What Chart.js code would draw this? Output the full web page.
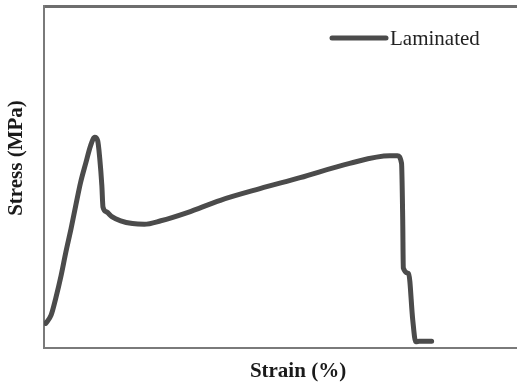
<!DOCTYPE html>
<html>
<head>
<meta charset="utf-8">
<script src="https://cdn.jsdelivr.net/npm/chart.js@4"></script>
<style>
  html, body { margin: 0; padding: 0; background: #fff; }
  #wrap { width: 517px; height: 388px; }
</style>
</head>
<body>
<div id="wrap"><canvas id="chart"></canvas></div>
<script>
// tensile test curve, laminated sample
const strain = [0.03, 0.12, 0.20, 0.29, 0.37, 0.46, 0.54, 0.62, 0.71, 0.79, 0.86, 0.91, 0.945, 0.98, 1.00, 1.06, 1.15, 1.30, 1.50, 1.70, 1.98, 2.43, 2.99, 3.66, 4.34, 5.18, 5.86, 5.99, 6.06, 6.08, 6.09, 6.18, 6.25, 6.30, 6.36, 6.57];
const stress = [3.6, 4.8, 7.3, 10.6, 14.0, 17.5, 20.9, 24.2, 27.1, 29.6, 30.8, 30.3, 27.7, 23.8, 20.6, 19.9, 19.2, 18.6, 18.2, 18.1, 18.6, 19.8, 21.6, 23.3, 24.9, 27.0, 28.1, 28.1, 27.0, 18.7, 11.7, 10.9, 4.1, 0.9, 1.0, 1.0];
const seriesName = "Laminated";
const xTitle = "Strain (%)";
const yTitle = "Stress (MPa)";

const lineColor = "#4b4b4b";
const frameColor = "#7a7a7a";
const serif = "'Liberation Serif', 'Times New Roman', serif";

// axis titles and the legend sit a little off-centre, so they are painted here
const labelsPlugin = {
  id: "frameLabels",
  afterDraw(chart) {
    const { ctx, chartArea: a } = chart;
    ctx.save();
    ctx.fillStyle = "#1a1a1a";
    ctx.textAlign = "center";
    ctx.textBaseline = "middle";
    ctx.font = "bold 21px " + serif;
    ctx.fillText(xTitle, a.left + 254, a.bottom + 24);
    ctx.translate(17, a.top + 152);
    ctx.rotate(-Math.PI / 2);
    ctx.fillText(yTitle, 0, 0);
    ctx.restore();

    // legend entry
    const ds = chart.data.datasets[0];
    const lx = a.right - 184, ly = a.top + 32;
    ctx.save();
    ctx.strokeStyle = ds.borderColor;
    ctx.lineWidth = ds.borderWidth;
    ctx.lineCap = "round";
    ctx.beginPath();
    ctx.moveTo(lx, ly);
    ctx.lineTo(lx + 54, ly);
    ctx.stroke();
    ctx.fillStyle = "#222";
    ctx.font = "21px " + serif;
    ctx.textBaseline = "middle";
    ctx.fillText(ds.label, lx + 58, ly + 1);
    ctx.restore();
  },
};

new Chart(document.getElementById("chart"), {
  type: "line",
  data: {
    datasets: [{
      label: seriesName,
      data: strain.map((x, i) => ({ x: x, y: stress[i] })),
      borderColor: lineColor,
      backgroundColor: lineColor,
      borderWidth: 5,
      borderCapStyle: "round",
      borderJoinStyle: "round",
      pointRadius: 0,
      cubicInterpolationMode: "monotone",
      fill: false,
    }],
  },
  options: {
    responsive: true,
    maintainAspectRatio: false,
    animation: false,
    layout: { padding: { top: 0, right: 1, bottom: 0, left: 0 } },
    plugins: {
      tooltip: { enabled: false },
      legend: { display: false },
    },
    scales: {
      x: {
        type: "linear",
        min: 0,
        max: 8,
        grid: { display: false },
        ticks: { display: false },
        border: { color: frameColor, width: 2 },
        afterFit: (scale) => { scale.height = 40; },
      },
      x2: {
        type: "linear",
        position: "top",
        grid: { display: false },
        ticks: { display: false },
        border: { color: "#6e6e6e", width: 3 },
        afterFit: (scale) => { scale.height = 6; },
      },
      y: {
        min: 0,
        max: 50,
        grid: { display: false },
        ticks: { display: false },
        border: { color: frameColor, width: 2 },
        afterFit: (scale) => { scale.width = 44; },
      },
    },
  },
  plugins: [labelsPlugin],
});
</script>
</body>
</html>
